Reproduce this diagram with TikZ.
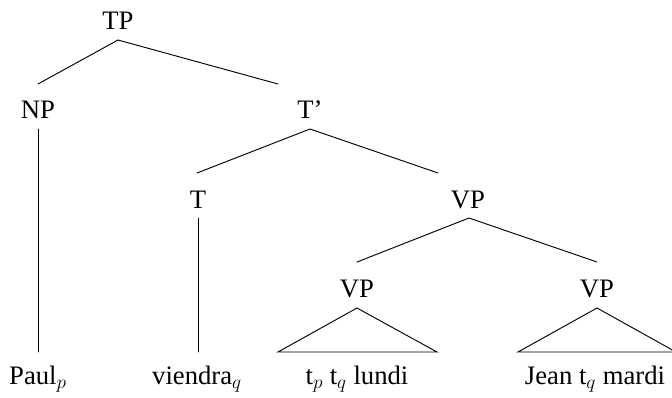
\documentclass[tikz,border=0pt]{standalone}
\usepackage{fontspec}
\setmainfont{Liberation Serif}
\begin{document}
\begin{tikzpicture}[x=0.75pt,y=-0.75pt,
  lab/.style={anchor=base,inner sep=0pt,font=\fontsize{20}{24}\selectfont},
  edge/.style={line width=0.7pt,line cap=round}]
\useasboundingbox (0,0) rectangle (672,397);
% labels
\node[lab] (tp) at (118,29) {TP};
\node[lab] (np) at (38,118) {NP};
\node[lab] (tbar) at (310,118) {T'};
\node[lab] (t) at (198,208) {T};
\node[lab] (vp) at (468,208) {VP};
\node[lab] (vp1) at (357,297) {VP};
\node[lab] (vp2) at (597,297) {VP};
\node[lab] (paul) at (38,384) {Paul$_p$};
\node[lab] (viendra) at (197,384) {viendra$_q$};
\node[lab] (lundi) at (357,384) {t$_p$ t$_q$ lundi};
\node[lab] (mardi) at (595,384) {Jean t$_q$ mardi};
% connector points
\coordinate (tpA) at (118,40);
\coordinate (npT) at (38,84);
\coordinate (tbT) at (278,84);
\coordinate (npB) at (38.5,129);
\coordinate (paulT) at (38.5,352);
\coordinate (tbA) at (310,129);
\coordinate (tT) at (197,173);
\coordinate (vpT) at (438,173);
\coordinate (tB) at (198.5,218);
\coordinate (viendraT) at (198.5,352);
\coordinate (vpA) at (469,218);
\coordinate (vp1T) at (357,262);
\coordinate (vp2T) at (597,262);
\coordinate (vp1A) at (357,308);
\coordinate (l1) at (278,352);
\coordinate (r1) at (437,352);
\coordinate (vp2A) at (597,308);
\coordinate (l2) at (518,352);
\coordinate (r2) at (676,352);
% edges
\draw[edge] (npT) -- (tpA) -- (tbT);
\draw[edge] (npB) -- (paulT);
\draw[edge] (tT) -- (tbA) -- (vpT);
\draw[edge] (tB) -- (viendraT);
\draw[edge] (vp1T) -- (vpA) -- (vp2T);
\draw[edge,line join=miter] (l1) -- (vp1A) -- (r1) -- cycle;
\draw[edge,line join=miter] (l2) -- (vp2A) -- (r2) -- cycle;
\end{tikzpicture}
\end{document}
